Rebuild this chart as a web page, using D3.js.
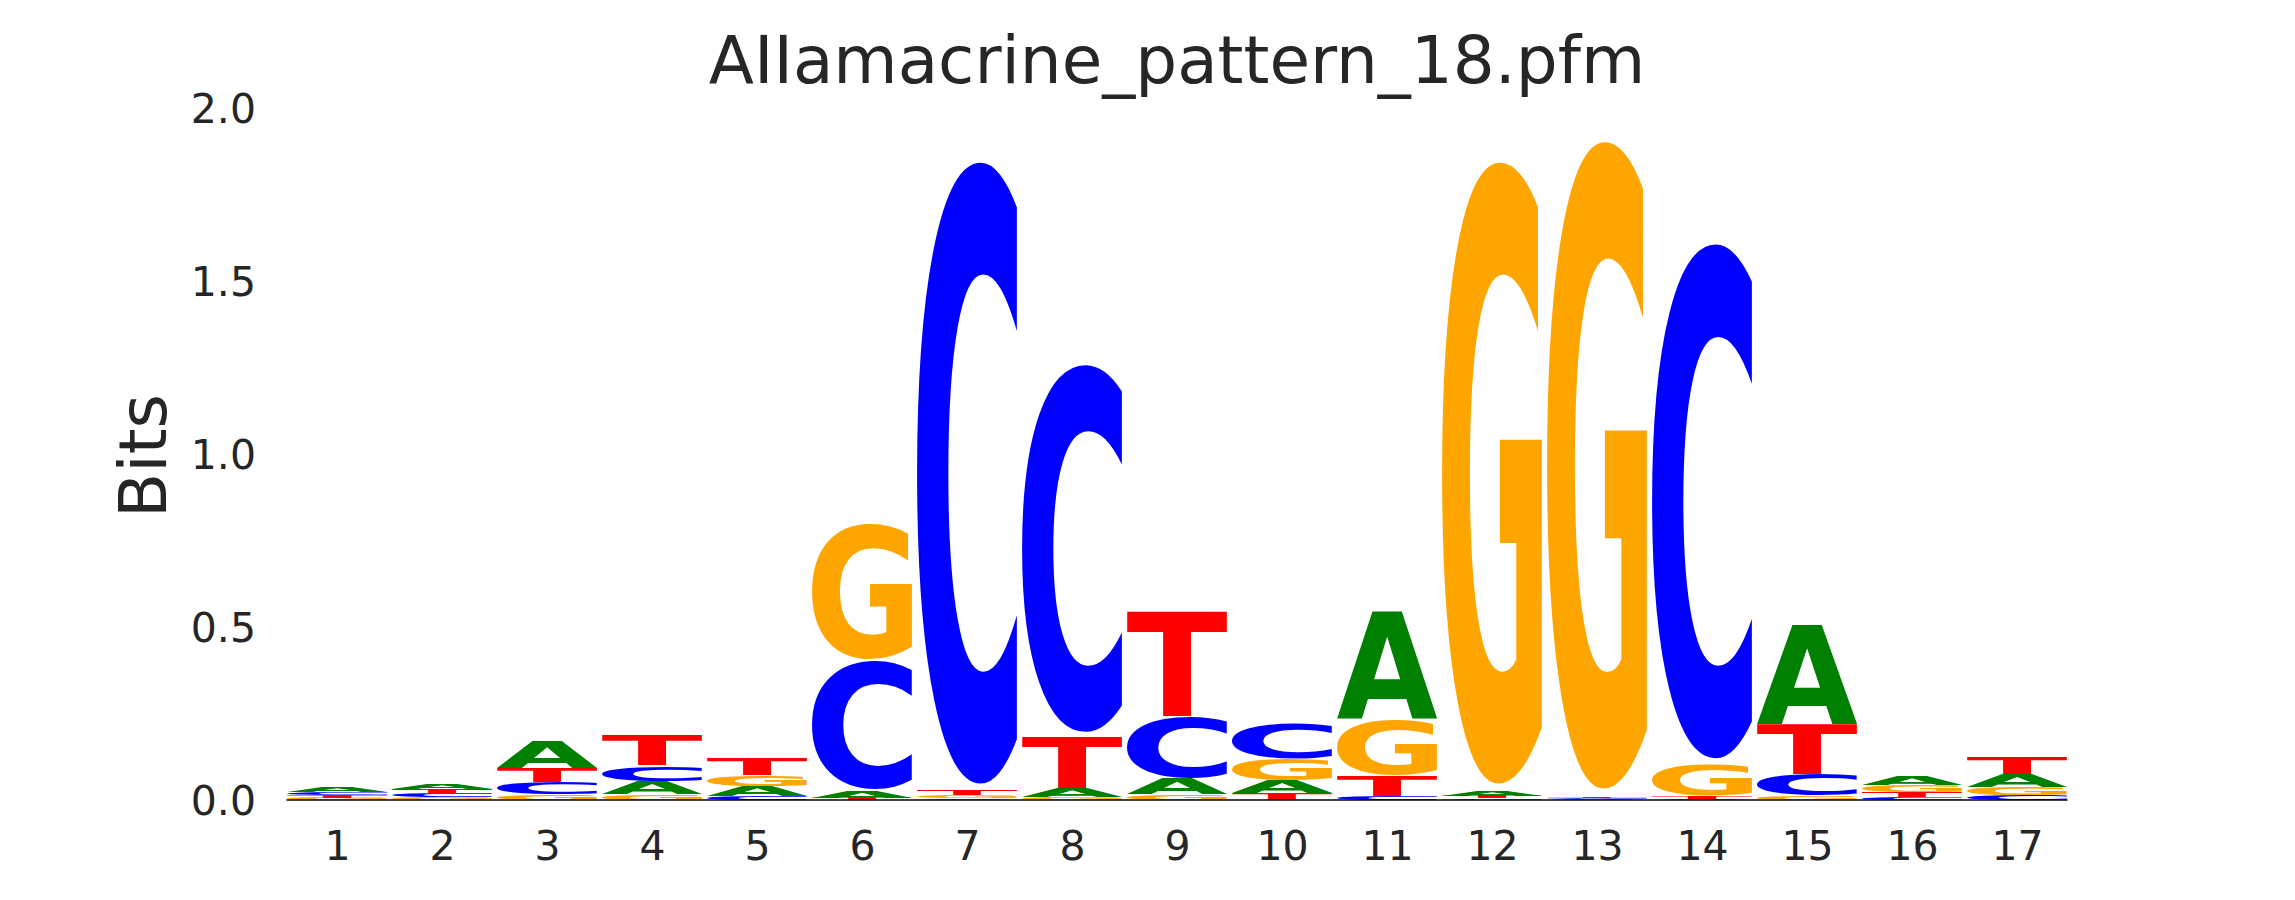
<!DOCTYPE html>
<html>
<head>
<meta charset="utf-8">
<script src="https://cdn.jsdelivr.net/npm/d3@7/dist/d3.min.js"></script>
<style>
  html, body { margin: 0; padding: 0; background: #ffffff; }
  svg { display: block; }
</style>
</head>
<body>
<svg id="chart" width="2295" height="900"></svg>
<script>
// ---- data (information content in bits) ----
const positions = [1, 2, 3, 4, 5, 6, 7, 8, 9, 10, 11, 12, 13, 14, 15, 16, 17];
const bitsA = [0.014, 0.016, 0.079, 0.038, 0.029, 0.019, 0.005, 0.027, 0.044, 0.037, 0.316, 0.0145, 0.003, 0.004, 0.292, 0.027, 0.038];
const bitsC = [0.009, 0.011, 0.037, 0.044, 0.012, 0.378, 1.834, 1.083, 0.178, 0.102, 0.012, 0.005, 0.004, 1.517, 0.062, 0.008, 0.014];
const bitsG = [0.006, 0.007, 0.015, 0.017, 0.030, 0.398, 0.009, 0.007, 0.017, 0.062, 0.163, 1.834, 1.909, 0.092, 0.012, 0.018, 0.023];
const bitsT = [0.008, 0.015, 0.040, 0.087, 0.049, 0.007, 0.013, 0.151, 0.308, 0.019, 0.058, 0.0075, 0.005, 0.008, 0.144, 0.016, 0.049];
const yTicks = [0.0, 0.5, 1.0, 1.5, 2.0];
const letters = ["A", "C", "G", "T"];
const letterColors = { A: "#008000", C: "#0000ff", G: "#ffa500", T: "#ff0000" };
const titleText = "AIIamacrine_pattern_18.pfm";
const yLabel = "Bits";

// ---- layout ----
const svg = d3.select("#chart");
const x = d3.scaleLinear().domain([0.5, 17.5]).range([284.5, 2069.5]);
const y = d3.scaleLinear().domain([0, 2]).range([800, 108]);
const glyphWidth = 0.95;
const vpad = 0.01;
const textColor = "#262626";
const FONT = "'DejaVu Sans', 'Liberation Sans', sans-serif";

// measure tight ink bounds of each letter by scanning rendered pixels
const refSize = 400;
const cw = 1000, ch = 1000, ox = 200, oy = 700;
const canvas = document.createElement("canvas");
canvas.width = cw; canvas.height = ch;
const ctx = canvas.getContext("2d");
const bounds = {};
letters.forEach(L => {
  ctx.clearRect(0, 0, cw, ch);
  ctx.font = `bold ${refSize}px ${FONT}`;
  ctx.fillStyle = "#000";
  ctx.textBaseline = "alphabetic";
  ctx.fillText(L, ox, oy);
  const data = ctx.getImageData(0, 0, cw, ch).data;
  let minX = cw, maxX = -1, minY = ch, maxY = -1;
  for (let yy = 0; yy < ch; yy++) {
    for (let xx = 0; xx < cw; xx++) {
      if (data[(yy * cw + xx) * 4 + 3] > 127) {
        if (xx < minX) minX = xx;
        if (xx > maxX) maxX = xx;
        if (yy < minY) minY = yy;
        if (yy > maxY) maxY = yy;
      }
    }
  }
  bounds[L] = { left: ox - minX, right: maxX + 1 - ox, asc: oy - minY, desc: maxY + 1 - oy };
});

// build stacks
const series = { A: bitsA, C: bitsC, G: bitsG, T: bitsT };
const glyphs = [];
positions.forEach((p, i) => {
  const vals = letters.map(L => ({ L, v: series[L][i] })).sort((a, b) => a.v - b.v);
  let floor = 0;
  vals.forEach(d => {
    const lo = floor + vpad * d.v;
    const hi = floor + d.v - vpad * d.v;
    glyphs.push({ pos: p, L: d.L, lo, hi });
    floor += d.v;
  });
});

const gLogo = svg.append("g");
gLogo.selectAll("text.glyph")
  .data(glyphs)
  .join("text")
  .attr("class", "glyph")
  .attr("font-family", FONT)
  .attr("font-weight", "bold")
  .attr("font-size", refSize)
  .attr("fill", d => letterColors[d.L])
  .attr("x", 0).attr("y", 0)
  .attr("transform", d => {
    const b = bounds[d.L];
    const x0 = x(d.pos - glyphWidth / 2);
    const w = x(d.pos + glyphWidth / 2) - x0;
    const y0 = y(d.hi);
    const h = y(d.lo) - y0;
    const sx = w / (b.left + b.right);
    const sy = h / (b.asc + b.desc);
    return `translate(${x0},${y0}) scale(${sx},${sy}) translate(${b.left},${b.asc})`;
  })
  .text(d => d.L);

// baseline
svg.append("line")
  .attr("x1", x(0.5) + 2).attr("x2", x(17.5) - 2)
  .attr("y1", y(0)).attr("y2", y(0))
  .attr("stroke", "#000000").attr("stroke-width", 1.5);

// x axis
const xAxis = svg.append("g")
  .attr("transform", `translate(0,${y(0)})`)
  .call(d3.axisBottom(x).tickValues(positions).tickFormat(d3.format("d")).tickSize(0).tickPadding(31));
xAxis.select(".domain").remove();
xAxis.selectAll("text")
  .attr("font-family", FONT).attr("font-size", 41).attr("fill", textColor);

// y axis
const yAxis = svg.append("g")
  .attr("transform", `translate(256,0)`)
  .call(d3.axisLeft(y).tickValues(yTicks).tickFormat(d3.format(".1f")).tickSize(0).tickPadding(0));
yAxis.select(".domain").remove();
yAxis.selectAll("text")
  .attr("font-family", FONT).attr("font-size", 41).attr("fill", textColor).attr("dy", "0.36em");

// y label
svg.append("text")
  .attr("transform", `translate(166,456) rotate(-90)`)
  .attr("text-anchor", "middle")
  .attr("font-family", FONT).attr("font-size", 66).attr("fill", textColor)
  .text(yLabel);

// title
svg.append("text")
  .attr("x", (x(0.5) + x(17.5)) / 2).attr("y", 83)
  .attr("text-anchor", "middle")
  .attr("font-family", FONT).attr("font-size", 66).attr("fill", textColor)
  .text(titleText);
</script>
</body>
</html>
